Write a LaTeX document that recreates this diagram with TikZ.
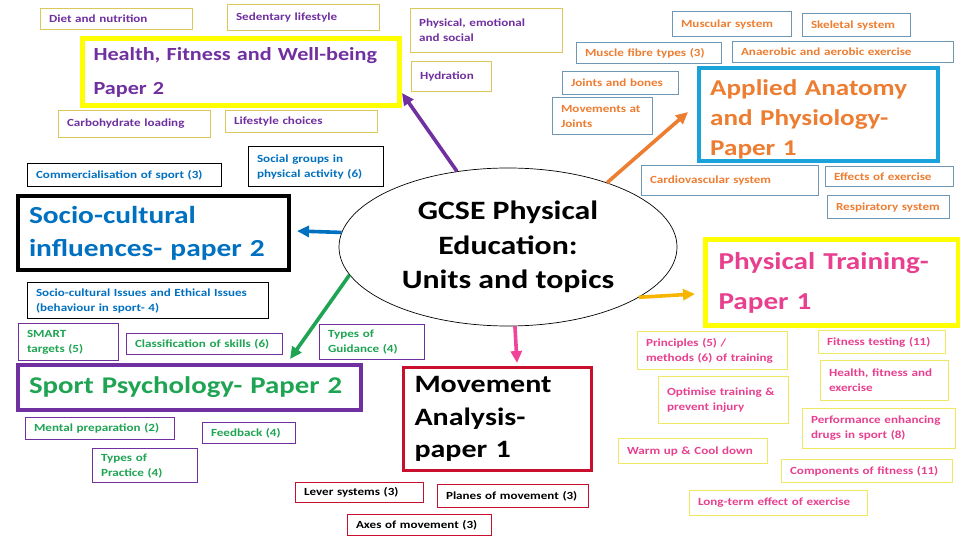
\documentclass[tikz,border=0pt]{standalone}
\usepackage{fontspec}
\setmainfont{Carlito}[FakeStretch=1.2]
\usetikzlibrary{arrows.meta,shapes.geometric}
\definecolor{HfwPurple}{HTML}{7030A0}
\definecolor{HfwGold}{HTML}{DCC85A}
\definecolor{HfwYellow}{HTML}{FFFF00}
\definecolor{AnatOrange}{HTML}{ED7D31}
\definecolor{AnatBlue}{HTML}{6E97B6}
\definecolor{AnatCyan}{HTML}{1AA3DA}
\definecolor{SocioBlue}{HTML}{0070C0}
\definecolor{PsychGreen}{HTML}{1EA452}
\definecolor{MoveRed}{HTML}{C8102E}
\definecolor{TrainPink}{HTML}{E8408F}
\definecolor{TrainYellow}{HTML}{F0E860}
\definecolor{ArrowPink}{HTML}{F0449A}
\definecolor{ArrowGold}{HTML}{F7B500}
\tikzset{
  topic/.style={draw,line width=1.1pt,anchor=north west,align=left,
                inner xsep=8.5pt,inner ysep=2pt,
                font=\fontsize{10.9}{15}\selectfont\bfseries},
  topicsize/.style 2 args={minimum width=#1pt,text width=#1pt-17pt,minimum height=#2pt},
  paper/.style={draw,anchor=north west,align=left,inner xsep=11pt,inner ysep=2pt},
  papersize/.style 2 args={minimum width=#1pt,text width=#1pt-22pt,minimum height=#2pt},
  arrow/.style={-{Triangle[length=12pt,width=11pt]},line width=3.6pt}
}

\begin{document}
\begin{tikzpicture}[x=1pt,y=-1pt]
  \useasboundingbox[fill=white] (0,0) rectangle (960,540);

  % centre
  \node[ellipse,draw,line width=0.7pt,inner sep=0pt,minimum width=338pt,minimum height=158pt,
        align=center,font=\fontsize{26.5}{34.5}\selectfont\bfseries] (gcse) at (508,247)
    {GCSE Physical\\Education:\\Units and topics};

  % health, fitness and well-being
  \node[topic,topicsize={152}{21},draw=HfwGold,text=HfwPurple] (diet) at (40,8) {Diet and nutrition};
  \node[topic,topicsize={152}{26},draw=HfwGold,text=HfwPurple] (sedentary) at (227,4) {Sedentary lifestyle};
  \node[paper,papersize={317}{67},draw=HfwYellow,line width=5pt,text=HfwPurple,
        font=\fontsize{18.5}{34}\selectfont\bfseries] (hfw) at (80,36) {Health, Fitness and Well-being\\Paper 2};
  \node[topic,topicsize={152}{27},draw=HfwGold,text=HfwPurple] (carbs) at (58,110) {Carbohydrate loading};
  \node[topic,topicsize={152}{22},draw=HfwGold,text=HfwPurple] (lifestyle) at (225,110) {Lifestyle choices};
  \node[topic,topicsize={152}{44},draw=HfwGold,text=HfwPurple] (wellbeing) at (410,8) {Physical, emotional\\and social};
  \node[topic,topicsize={80}{30},draw=HfwGold,text=HfwPurple] (hydration) at (411,61) {Hydration};

  % applied anatomy and physiology
  \node[topic,topicsize={119}{25},draw=AnatBlue,text=AnatOrange] (muscular) at (672,11) {Muscular system};
  \node[topic,topicsize={108}{23},draw=AnatBlue,text=AnatOrange] (skeletal) at (802,13) {Skeletal system};
  \node[topic,topicsize={145}{21},draw=AnatBlue,text=AnatOrange] (fibres) at (576,42) {Muscle fibre types (3)};
  \node[topic,topicsize={221}{21},draw=AnatBlue,text=AnatOrange] (energy) at (732,41) {Anaerobic and aerobic exercise};
  \node[topic,topicsize={116}{23},draw=AnatBlue,text=AnatOrange] (joints) at (562,71) {Joints and bones};
  \node[topic,topicsize={100}{37},draw=AnatBlue,text=AnatOrange] (movements) at (552,97) {Movements at\\Joints};
  \node[paper,papersize={239}{93},draw=none,text=AnatOrange,
        font=\fontsize{22.6}{30}\selectfont\bfseries] (anatomy) at (699,73) {Applied Anatomy\\and Physiology-\\Paper 1};
  \draw[AnatCyan,line width=4pt] (699,68) rectangle (938,161);
  \node[topic,topicsize={177}{30},draw=AnatBlue,text=AnatOrange] (cardio) at (641,165) {Cardiovascular system};
  \node[topic,topicsize={128}{20},draw=AnatBlue,text=AnatOrange] (effects) at (825,166) {Effects of exercise};
  \node[topic,topicsize={122}{23},draw=AnatBlue,text=AnatOrange] (respiratory) at (827,195) {Respiratory system};

  % socio-cultural influences
  \node[topic,topicsize={194}{23},draw=black,text=SocioBlue] (commercial) at (27,163) {Commercialisation of sport (3)};
  \node[topic,topicsize={135}{40},draw=black,text=SocioBlue] (groups) at (248,146) {Social groups in\\physical activity (6)};
  \node[paper,papersize={271}{74},draw=black,line width=4pt,text=SocioBlue,
        font=\fontsize{24.5}{33}\selectfont\bfseries] (socio) at (16,194) {Socio-cultural\\influences- paper 2};
  \node[topic,topicsize={241}{36},draw=black,text=SocioBlue] (ethics) at (27,282)
    {Socio-cultural Issues and Ethical Issues\\(behaviour in sport- 4)};

  % sport psychology
  \node[topic,topicsize={100}{37},draw=HfwPurple,text=PsychGreen] (smart) at (18,323) {SMART\\targets (5)};
  \node[topic,topicsize={156}{21},draw=HfwPurple,text=PsychGreen] (skills) at (126,333) {Classification of skills (6)};
  \node[topic,topicsize={105}{35},draw=HfwPurple,text=PsychGreen] (guidance) at (319,324) {Types of\\Guidance (4)};
  \node[paper,papersize={343}{45},draw=HfwPurple,line width=4pt,text=PsychGreen,
        font=\fontsize{24}{30}\selectfont\bfseries] (psych) at (16,363) {Sport Psychology- Paper 2};
  \node[topic,topicsize={149}{22},draw=HfwPurple,text=PsychGreen] (mental) at (25,417) {Mental preparation (2)};
  \node[topic,topicsize={93}{21},draw=HfwPurple,text=PsychGreen] (feedback) at (202,422) {Feedback (4)};
  \node[topic,topicsize={105}{34},draw=HfwPurple,text=PsychGreen] (practice) at (92,448) {Types of\\Practice (4)};

  % movement analysis
  \node[paper,papersize={188}{103},draw=MoveRed,line width=3pt,text=black,
        font=\fontsize{25}{32.5}\selectfont\bfseries] (movement) at (402,366) {Movement\\Analysis-\\paper 1};
  \node[topic,topicsize={128}{20},draw=MoveRed,text=black] (levers) at (295,482) {Lever systems (3)};
  \node[topic,topicsize={151}{23},draw=MoveRed,text=black] (planes) at (437,484) {Planes of movement (3)};
  \node[topic,topicsize={144}{21},draw=MoveRed,text=black] (axes) at (347,514) {Axes of movement (3)};

  % physical training
  \node[paper,papersize={249}{86},draw=HfwYellow,line width=5pt,text=TrainPink,inner xsep=13pt,
        font=\fontsize{24.3}{40}\selectfont\bfseries] (training) at (703,237) {Physical Training-\\Paper 1};
  \node[topic,topicsize={150}{38},draw=TrainYellow,text=TrainPink] (principles) at (637,331) {Principles (5) /\\methods (6) of training};
  \node[topic,topicsize={127}{23},draw=TrainYellow,text=TrainPink] (testing) at (818,330) {Fitness testing (11)};
  \node[topic,topicsize={128}{40},draw=TrainYellow,text=TrainPink] (hfexercise) at (820,360) {Health, fitness and\\exercise};
  \node[topic,topicsize={130}{47},draw=TrainYellow,text=TrainPink] (optimise) at (658,376) {Optimise training \&\\prevent injury};
  \node[topic,topicsize={153}{40},draw=TrainYellow,text=TrainPink] (drugs) at (802,408) {Performance enhancing\\drugs in sport (8)};
  \node[topic,topicsize={149}{25},draw=TrainYellow,text=TrainPink] (warmup) at (618,438) {Warm up \& Cool down};
  \node[topic,topicsize={171}{23},draw=TrainYellow,text=TrainPink] (components) at (781,459) {Components of fitness (11)};
  \node[topic,topicsize={178}{25},draw=TrainYellow,text=TrainPink] (longterm) at (689,490) {Long-term effect of exercise};

  % arrows out of the centre
  \coordinate (hfwtip) at (402,93);
  \coordinate (anatomytip) at (688,112);
  \coordinate (sociotip) at (297,231);
  \coordinate (psychtip) at (290,359);
  \coordinate (movementtip) at (517,363);
  \coordinate (trainingtip) at (695,294);
  \draw[arrow,HfwPurple] (gcse.124) -- (hfwtip);
  \draw[arrow,AnatOrange] (gcse.33) -- (anatomytip);
  \draw[arrow,SocioBlue] (gcse.175) -- (sociotip);
  \draw[arrow,PsychGreen] (gcse.190) -- (psychtip);
  \draw[arrow,ArrowPink] (gcse.275) -- (movementtip);
  \draw[arrow,ArrowGold] (gcse.339) -- (trainingtip);
\end{tikzpicture}
\end{document}
